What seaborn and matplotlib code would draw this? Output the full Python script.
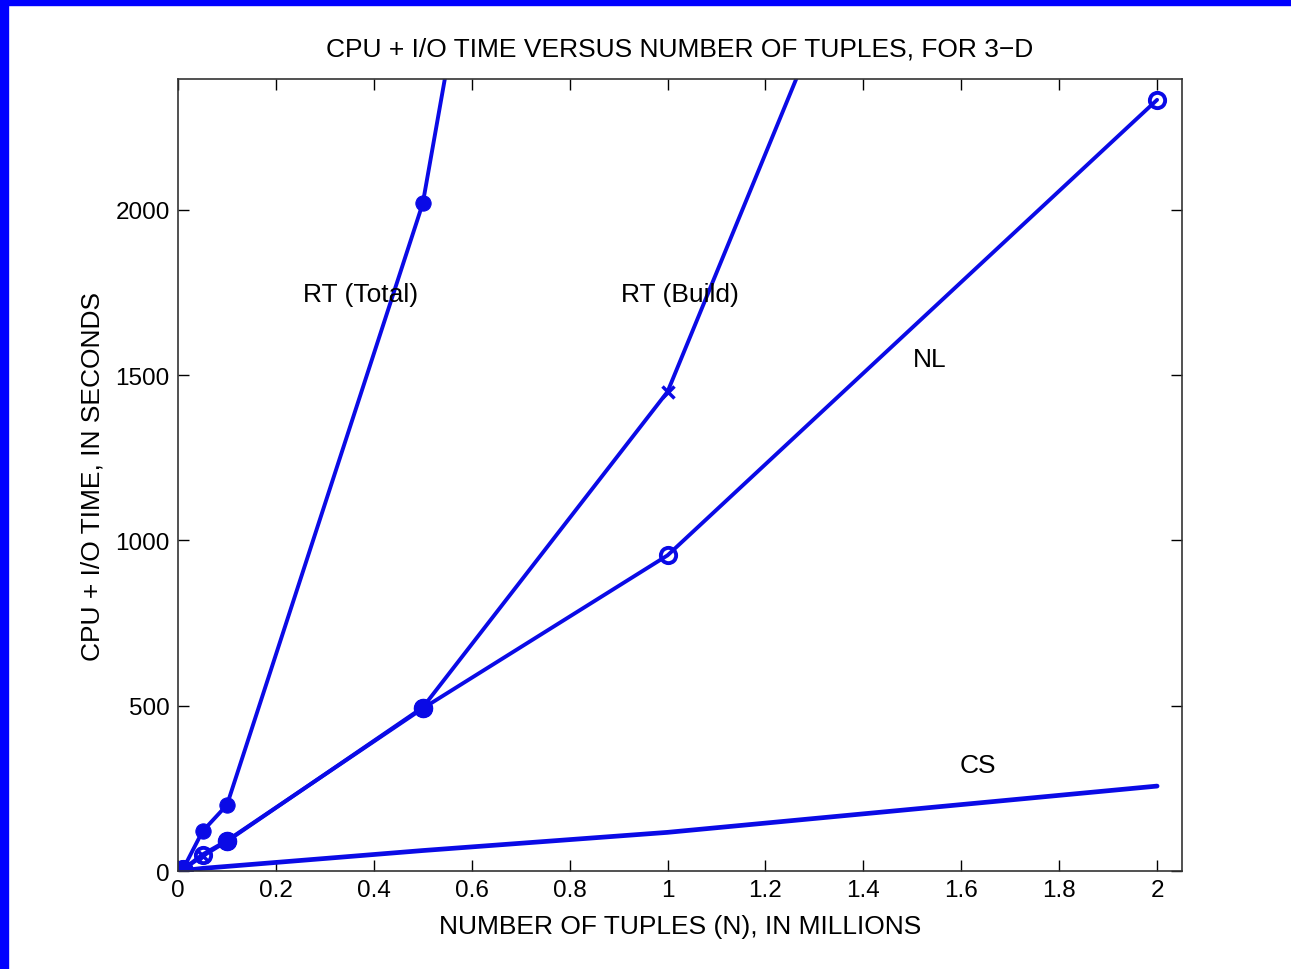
import matplotlib
matplotlib.use("Agg")
import matplotlib.pyplot as plt
import seaborn as sns
import pandas as pd
from matplotlib.patches import Rectangle

# Data (N in millions, time in seconds)
n_rt_total = [0.01, 0.05, 0.1, 0.5, 1.0]
t_rt_total = [5, 120, 200, 2020, 6200]

n_rt_build = [0.01, 0.05, 0.1, 0.5, 1.0, 2.0]
t_rt_build = [5, 45, 90, 495, 1450, 5050]

n_nl = [0.01, 0.05, 0.1, 0.5, 1.0, 2.0]
t_nl = [5, 50, 92, 492, 955, 2333]

n_cs = [0.01, 0.05, 0.1, 0.5, 1.0, 2.0]
t_cs = [1, 8, 14, 62, 117, 257]

labels = ["RT (Total)", "RT (Build)", "NL", "CS"]
title = "CPU + I/O TIME VERSUS NUMBER OF TUPLES, FOR 3\u2212D"
xlabel = "NUMBER OF TUPLES (N), IN MILLIONS"
ylabel = "CPU + I/O TIME, IN SECONDS"
xticks = [0, 0.2, 0.4, 0.6, 0.8, 1, 1.2, 1.4, 1.6, 1.8, 2]
xticklabels = ["0", "0.2", "0.4", "0.6", "0.8", "1", "1.2", "1.4", "1.6", "1.8", "2"]
yticks = [0, 500, 1000, 1500, 2000]

sns.set_style("ticks")
plt.rcParams['font.family'] = ['Liberation Sans', 'DejaVu Sans']
plt.rcParams['text.color'] = 'black'
plt.rcParams['axes.labelcolor'] = 'black'

fig = plt.figure(figsize=(12.91, 9.70), dpi=100)
ax = fig.add_axes([0.1379, 0.101, 0.9156 - 0.1379, 0.9175 - 0.101])

blue = "#0a0ae6"
lw = 2.8

df1 = pd.DataFrame({"n": n_rt_total, "t": t_rt_total})
sns.lineplot(data=df1, x="n", y="t", ax=ax, color=blue, lw=lw, marker="o",
             markersize=11, markeredgecolor=blue, markerfacecolor=blue)
df2 = pd.DataFrame({"n": n_rt_build, "t": t_rt_build})
sns.lineplot(data=df2, x="n", y="t", ax=ax, color=blue, lw=lw, marker="x",
             markersize=9, markeredgewidth=2.5, markeredgecolor=blue)
df3 = pd.DataFrame({"n": n_nl, "t": t_nl})
sns.lineplot(data=df3, x="n", y="t", ax=ax, color=blue, lw=lw, marker="o",
             markersize=11, markeredgewidth=2.8, markeredgecolor=blue,
             markerfacecolor="none")
df4 = pd.DataFrame({"n": n_cs, "t": t_cs})
sns.lineplot(data=df4, x="n", y="t", ax=ax, color=blue, lw=lw + 0.6)

# extra marker accents near origin / overlaps
ax.plot([0.01], [3], marker="o", markersize=14, color=blue, lw=0)
ax.plot([0.1, 0.5], [92, 493], marker="o", markersize=13, color=blue, lw=0)

ax.set_xlim(0, 2.051)
ax.set_ylim(0, 2396)
ax.set_xticks(xticks)
ax.set_xticklabels(xticklabels)
ax.set_yticks(yticks)
ax.tick_params(direction="in", length=8, width=1, top=True, right=True,
               labelsize=17.5, colors="black", labelcolor="black", pad=6)
for s in ax.spines.values():
    s.set_color("#333333")
    s.set_linewidth(1.2)

fs = 19
ax.set_xlabel(xlabel, fontsize=fs, labelpad=9, color="black")
ax.set_ylabel(ylabel, fontsize=fs, labelpad=8, color="black")
ax.set_title(title, fontsize=fs, pad=17, color="black")

ax.text(0.372, 1746, labels[0], fontsize=fs, ha="center", va="center")
ax.text(1.026, 1746, labels[1], fontsize=fs, ha="center", va="center")
ax.text(1.536, 1549, labels[2], fontsize=fs, ha="center", va="center")
ax.text(1.634, 321, labels[3], fontsize=fs, ha="center", va="center")

# blue frame on left and top edges
fig.patches.append(Rectangle((0, 0), 8 / 1291, 1, transform=fig.transFigure,
                             color="#0000ff", zorder=10))
fig.patches.append(Rectangle((0, 1 - 6 / 970), 1, 6 / 970, transform=fig.transFigure,
                             color="#0000ff", zorder=10))

fig.savefig("out.png", dpi=100)
